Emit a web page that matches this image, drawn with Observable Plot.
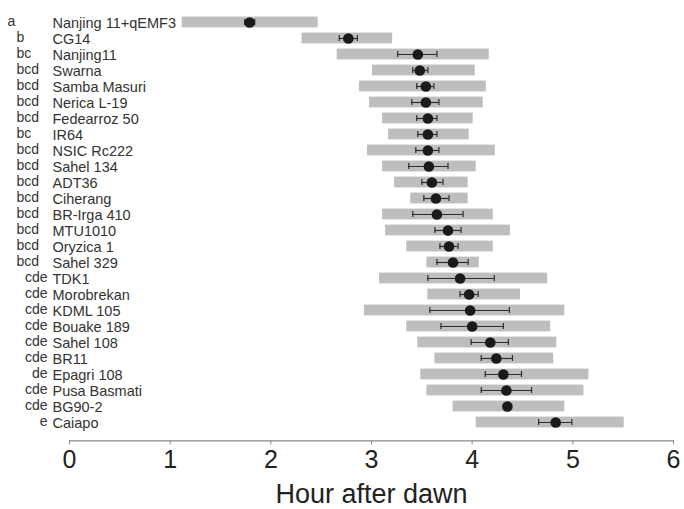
<!DOCTYPE html>
<html><head><meta charset="utf-8">
<script src="https://cdn.jsdelivr.net/npm/d3@7"></script>
<script src="https://cdn.jsdelivr.net/npm/@observablehq/plot@0.6"></script>
<style>
html,body{margin:0;padding:0;background:#fff}
#chart svg{display:block}
</style>
</head><body><div id="chart"></div>
<script>
const varieties = ["Nanjing 11+qEMF3","CG14","Nanjing11","Swarna","Samba Masuri","Nerica L-19","Fedearroz 50","IR64","NSIC Rc222","Sahel 134","ADT36","Ciherang","BR-Irga 410","MTU1010","Oryzica 1","Sahel 329","TDK1","Morobrekan","KDML 105","Bouake 189","Sahel 108","BR11","Epagri 108","Pusa Basmati","BG90-2","Caiapo"];
const groups = ["a","b","bc","bcd","bcd","bcd","bcd","bc","bcd","bcd","bcd","bcd","bcd","bcd","bcd","bcd","cde","cde","cde","cde","cde","cde","de","cde","cde","e"];
const rangeMin = [1.12,2.31,2.66,3.01,2.88,2.98,3.11,3.17,2.96,3.11,3.23,3.39,3.11,3.14,3.35,3.55,3.08,3.56,2.93,3.35,3.46,3.63,3.49,3.55,3.81,4.04];
const rangeMax = [2.47,3.21,4.17,4.03,4.14,4.11,4.01,3.97,4.23,4.04,3.96,3.96,4.21,4.38,4.21,4.07,4.75,4.48,4.92,4.78,4.84,4.81,5.16,5.11,4.92,5.51];
const means = [1.79,2.77,3.46,3.48,3.54,3.54,3.56,3.56,3.56,3.57,3.60,3.64,3.65,3.76,3.77,3.81,3.88,3.97,3.98,4.00,4.18,4.24,4.31,4.34,4.35,4.83];
const errLow = [1.74,2.68,3.26,3.41,3.45,3.40,3.45,3.46,3.44,3.37,3.50,3.52,3.41,3.63,3.68,3.65,3.56,3.88,3.58,3.69,3.99,4.09,4.13,4.09,4.33,4.66];
const errHigh = [1.84,2.86,3.65,3.56,3.62,3.67,3.65,3.65,3.67,3.76,3.71,3.77,3.91,3.89,3.86,3.96,4.22,4.06,4.37,4.31,4.36,4.40,4.49,4.59,4.37,4.99];
const xTicks = [0,1,2,3,4,5,6];
const xLabel = "Hour after dawn";

const rows = varieties.map((name, i) => ({
  name, group: groups[i], min: rangeMin[i], max: rangeMax[i],
  mean: means[i], lo: errLow[i], hi: errHigh[i]
}));

const errColor = "#2b2b2b";
const chart = Plot.plot({
  width: 684, height: 509,
  marginLeft: 69, marginRight: 11, marginTop: 4.6, marginBottom: 68.6,
  style: {fontFamily: "'Liberation Sans', Arial, sans-serif", background: "#fff", overflow: "visible"},
  x: {domain: [0, 6], axis: null},
  y: {type: "band", domain: varieties, padding: 0, axis: null},
  marks: [
    Plot.barX(rows, {y: "name", x1: "min", x2: "max", fill: "#bdbec0", insetTop: 2.6, insetBottom: 2.6}),
    Plot.ruleY(rows, {y: "name", x1: "lo", x2: "hi", stroke: errColor, strokeWidth: 1.2}),
    Plot.tickX(rows, {y: "name", x: "lo", stroke: errColor, strokeWidth: 1.2, insetTop: 5, insetBottom: 5}),
    Plot.tickX(rows, {y: "name", x: "hi", stroke: errColor, strokeWidth: 1.2, insetTop: 5, insetBottom: 5}),
    Plot.dot(rows, {y: "name", x: "mean", r: 5.3, fill: "#1a1a1a", stroke: "none"}),
    Plot.frame({anchor: "bottom", stroke: "#8a8a8a", strokeWidth: 1.2}),
    Plot.axisX({ticks: xTicks, tickSize: 4, tickPadding: 5, fontSize: 25, stroke: "#8a8a8a", color: "#222", label: null, tickFormat: d => String(d)}),
    Plot.text([xLabel], {x: () => 3, text: d => d, frameAnchor: "bottom", dy: 62, lineAnchor: "bottom", fontSize: 27, fill: "#222", letterSpacing: "-0.6px"}),
    Plot.text(rows, {y: "name", text: "name", frameAnchor: "left", dx: -17, dy: 0.5, textAnchor: "start", fontSize: 14.5, fill: "#333"}),
    Plot.text(rows.filter(d => d.group === "a"), {y: "name", text: "group", frameAnchor: "left", dx: -62, dy: -1, textAnchor: "start", fontSize: 14, fill: "#333"}),
    Plot.text(rows.filter(d => d.group !== "a" && !d.group.includes("e")), {y: "name", text: "group", frameAnchor: "left", dx: -53, dy: -1, textAnchor: "start", fontSize: 14, fill: "#333"}),
    Plot.text(rows.filter(d => d.group.includes("e")), {y: "name", text: "group", frameAnchor: "left", dx: -22, dy: -1, textAnchor: "end", fontSize: 14, fill: "#333"})
  ]
});
document.getElementById("chart").appendChild(chart);
</script>
</body></html>
